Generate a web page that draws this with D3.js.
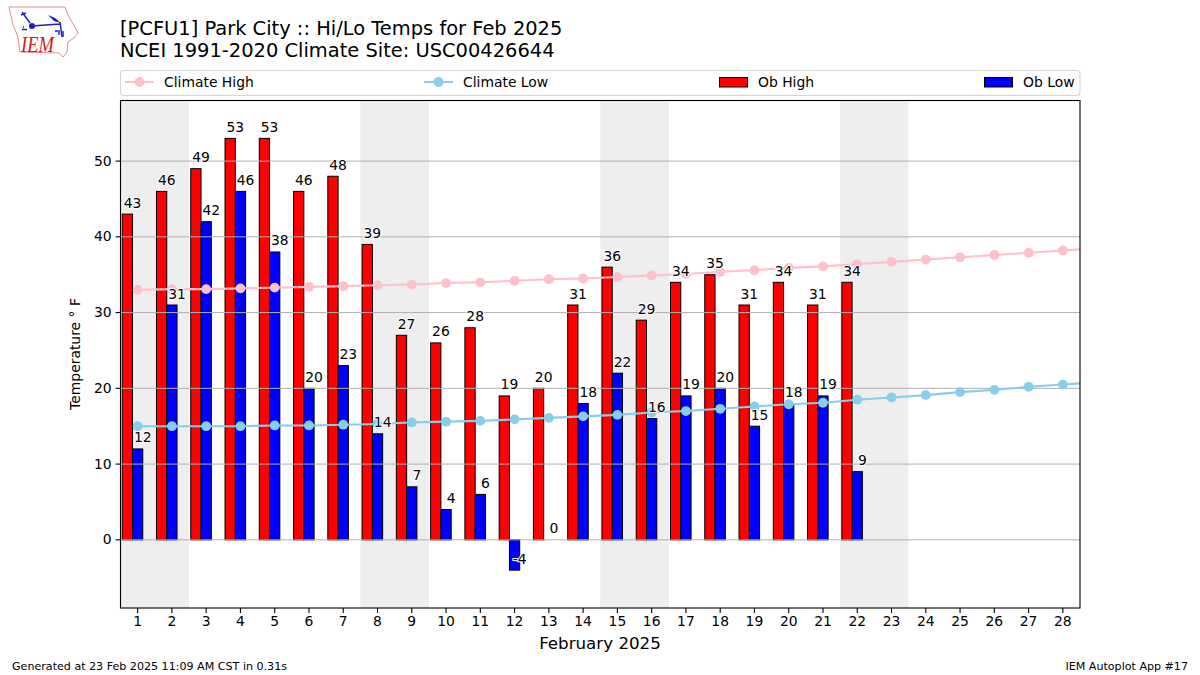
<!DOCTYPE html>
<html><head><meta charset="utf-8">
<script src="https://cdnjs.cloudflare.com/ajax/libs/d3/7.8.5/d3.min.js"></script>
<style>
html,body{margin:0;padding:0;background:#fff}
svg{display:block}
text{font-family:"DejaVu Sans",sans-serif;fill:#000}
</style></head><body>
<svg id="c" width="1200" height="675"></svg>
<script>
const titleLines = ["[PCFU1] Park City :: Hi/Lo Temps for Feb 2025", "NCEI 1991-2020 Climate Site: USC00426644"];
const xTitle = "February 2025";
const yTitle = "Temperature ° F";
const footerLeft = "Generated at 23 Feb 2025 11:09 AM CST in 0.31s";
const footerRight = "IEM Autoplot App #17";
const days = d3.range(1, 29);
const climateDays = d3.range(1, 30);
const obHigh = [43,46,49,53,53,46,48,39,27,26,28,19,20,31,36,29,34,35,31,34,31,34];
const obLow = [12,31,42,46,38,20,23,14,7,4,6,-4,0,18,22,16,19,20,15,18,19,9];
const climateHigh = [33.0,33.1,33.1,33.2,33.3,33.4,33.5,33.6,33.7,33.9,34.0,34.2,34.4,34.5,34.7,34.9,35.1,35.4,35.6,35.9,36.1,36.4,36.7,37.0,37.3,37.6,37.9,38.2,38.5];
const climateLow = [15.0,15.0,15.0,15.0,15.1,15.1,15.2,15.3,15.5,15.6,15.7,15.9,16.1,16.3,16.5,16.8,17.0,17.3,17.6,17.9,18.1,18.5,18.8,19.1,19.5,19.8,20.2,20.5,20.8];
const weekendBands = [[0.5,2.5],[7.5,9.5],[14.5,16.5],[21.5,23.5]];
const yTicks = [0,10,20,30,40,50];

const svg = d3.select("#c");
const L=120.5,R=1080,T=100.5,B=608;
const x = d3.scaleLinear().domain([0.5,28.5]).range([L,R]);
const y = d3.scaleLinear().domain([-9,58]).range([B,T]);
const barW = x(1.3)-x(1);

svg.append("defs").append("clipPath").attr("id","plot").append("rect")
  .attr("x",L).attr("y",T).attr("width",R-L).attr("height",B-T);

// logo
const logo = svg.append("g").attr("class","logo");
logo.append("path").attr("d","M9 7 L65 7 L68 15 L72 22 L78 33 L74 38 L68 42 L67 52 L63 57 L59 53 L20 52 L18 37 L13 25 Z")
  .attr("fill","#fff").attr("stroke","#e58a8a").attr("stroke-width",1);
const blue = "#1c1cc8";
logo.append("path").attr("d","M32 26 L60 24 M60 22 L62 37 M22 12 L30 23 M21 15 L26 13")
  .attr("fill","none").attr("stroke",blue).attr("stroke-width",1.5);
logo.append("path").attr("d","M48 15 L55 18 L61 23 L54 21 Z").attr("fill",blue);
logo.append("circle").attr("cx",32).attr("cy",26).attr("r",3).attr("fill",blue);
logo.append("path").attr("d","M55 31 L58 31 M59 30 L59 35 M63 31 L63 37 M23 27 L24 27 M22 29.5 L27 29.5").attr("stroke",blue).attr("stroke-width",1.4).attr("fill","none");
logo.append("text").attr("x",21).attr("y",52).attr("textLength",33).attr("lengthAdjust","spacingAndGlyphs").text("IEM")
  .style("font-family","'Liberation Serif',serif").style("font-style","italic")
  .style("font-size","22.5px").style("fill","#d02020");

// titles
titleLines.forEach((t,i)=>svg.append("text").attr("x",120).attr("y",35+i*22).style("font-size","19.45px").text(t));

// weekend bands
svg.append("g").attr("clip-path","url(#plot)").selectAll("rect").data(weekendBands).join("rect")
  .attr("x",d=>x(d[0])).attr("width",d=>x(d[1])-x(d[0]))
  .attr("y",T).attr("height",B-T).attr("fill","#eeeeee");

// bars
function bars(vals,off,color){
  svg.append("g").selectAll("rect").data(vals).join("rect")
    .attr("x",(d,i)=>x(days[i]+off))
    .attr("width",barW)
    .attr("y",d=>Math.min(y(d),y(0)))
    .attr("height",d=>Math.abs(y(d)-y(0)))
    .attr("fill",color).attr("stroke","#000").attr("stroke-width",1);
}
bars(obHigh,-0.45,"#ff0000");
bars(obLow,-0.15,"#0000ff");

// grid over the bars
svg.append("g").selectAll("line").data(yTicks).join("line")
  .attr("x1",L).attr("x2",R).attr("y1",d=>y(d)).attr("y2",d=>y(d))
  .attr("stroke","#b0b0b0").attr("stroke-width",1);

// climate lines
function climate(vals,color){
  const g = svg.append("g").attr("clip-path","url(#plot)");
  g.append("path").datum(vals)
    .attr("d",d3.line().x((d,i)=>x(climateDays[i])).y(d=>y(d)))
    .attr("fill","none").attr("stroke",color).attr("stroke-width",2.1);
  g.selectAll("circle").data(vals).join("circle")
    .attr("cx",(d,i)=>x(climateDays[i])).attr("cy",d=>y(d)).attr("r",4.9).attr("fill",color);
}
climate(climateHigh,"#ffc0cb");
climate(climateLow,"#87ceeb");

// value labels
function labels(vals,off){
  svg.append("g").selectAll("text").data(vals).join("text")
    .attr("x",(d,i)=>x(days[i]+off))
    .attr("y",d=>y(d)-6.5)
    .attr("text-anchor","middle").style("font-size","13.9px")
    .style("paint-order","stroke").style("stroke","#fff").style("stroke-width","2px")
    .text(d=>d);
}
labels(obHigh,-0.15);
labels(obLow,0.15);

// spines + axes
svg.append("rect").attr("x",L).attr("y",T).attr("width",R-L).attr("height",B-T)
  .attr("fill","none").attr("stroke","#000").attr("stroke-width",1.1);
const xAxis = svg.append("g").attr("transform",`translate(0,${B})`)
  .call(d3.axisBottom(x).offset(0).tickValues(days).tickFormat(d3.format("d")).tickSize(4.9).tickPadding(3));
const yAxis = svg.append("g").attr("transform",`translate(${L},0)`)
  .call(d3.axisLeft(y).offset(0).tickValues(yTicks).tickSize(4.9).tickPadding(4));
[xAxis,yAxis].forEach(a=>{
  a.select(".domain").remove();
  a.selectAll("line").attr("stroke","#000").attr("stroke-width",1.1);
  a.selectAll("text").style("font-size","13.9px").style("font-family","'DejaVu Sans',sans-serif").attr("fill","#000");
});

svg.append("text").attr("x",600).attr("y",649).attr("text-anchor","middle").style("font-size","16.7px").text(xTitle);
svg.append("text").attr("transform","translate(80,354) rotate(-90)").attr("text-anchor","middle").style("font-size","13.9px").text(yTitle);
svg.append("text").attr("x",12).attr("y",670).style("font-size","11.1px").text(footerLeft);
svg.append("text").attr("x",1188).attr("y",670).attr("text-anchor","end").style("font-size","11.1px").text(footerRight);

// legend
svg.append("rect").attr("x",120.5).attr("y",70.5).attr("width",959.5).attr("height",25).attr("rx",3)
  .attr("fill","#fff").attr("stroke","#d5d5d5").attr("stroke-width",1.1);
const lgY=82;
[["Climate High",125,"#ffc0cb"],["Climate Low",424,"#87ceeb"]].forEach(([t,lx,c])=>{
  svg.append("line").attr("x1",lx).attr("x2",lx+29).attr("y1",lgY).attr("y2",lgY).attr("stroke",c).attr("stroke-width",2.1);
  svg.append("circle").attr("cx",lx+14.5).attr("cy",lgY).attr("r",4.9).attr("fill",c);
  svg.append("text").attr("x",lx+39).attr("y",lgY+5).style("font-size","13.9px").text(t);
});
[["Ob High",719,"#ff0000"],["Ob Low",984,"#0000ff"]].forEach(([t,lx,c])=>{
  svg.append("rect").attr("x",lx+0.5).attr("y",77.5).attr("width",28).attr("height",9.5).attr("fill",c).attr("stroke","#000").attr("stroke-width",1);
  svg.append("text").attr("x",lx+39).attr("y",lgY+5).style("font-size","13.9px").text(t);
});
</script>
</body></html>
